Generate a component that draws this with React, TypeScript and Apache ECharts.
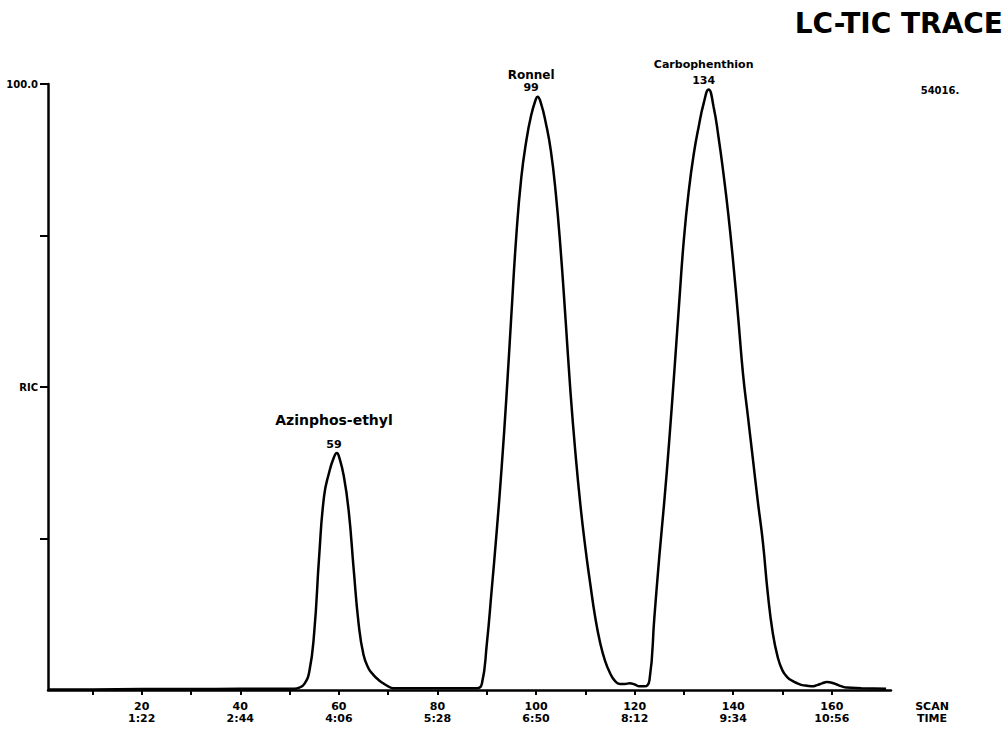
import React, { useEffect, useRef } from "react";
import * as echarts from "echarts";

// ---- axis ticks / labels ----
const xTickScans = [20, 40, 60, 80, 100, 120, 140, 160];
const xTickTimes = ["1:22", "2:44", "4:06", "5:28", "6:50", "8:12", "9:34", "10:56"];
const xMinorTicks = [10, 20, 30, 40, 50, 60, 70, 80, 90, 100, 110, 120, 130, 140, 150, 160];
const yTickValues = [25, 50, 75, 100];
const yLabelValues = [50, 100];
const yLabelTexts = ["RIC", "100.0"];

// ---- peaks ----
const peakNames = ["Azinphos-ethyl", "Ronnel", "Carbophenthion"];
const peakScans = [59, 99, 134];
const peakHeights = [39.1, 97.9, 99.1];
const fullScale = "54016.";

// ---- trace (scan number, % of full scale) ----
const baselineStart: [number, number][] = [
  [1, 0.1], [10, 0.1], [20, 0.15], [30, 0.15], [40, 0.2], [50, 0.2],
];
const azinphosTrace: [number, number][] = [
  [51, 0.2], [52, 0.4], [53, 1.0], [54, 3.0], [55, 9.5], [56, 22], [57, 32], [58, 35.8],
  [59, 38.4], [59.6, 39.1], [60, 38.6], [61, 35.3], [62, 29.5], [63, 20], [64, 11], [65, 5.8],
  [66, 3.6], [67, 2.5], [68, 1.7], [69, 1.1], [70, 0.6], [71, 0.3],
];
const baselineMid: [number, number][] = [[75, 0.3], [80, 0.3], [87, 0.3]];
const ronnelTrace: [number, number][] = [
  [88, 0.3], [89, 1.0], [90, 7.5], [91, 16.5], [92, 26], [93, 36.5], [94, 48.5], [95, 62],
  [96, 75], [97, 84.5], [98, 90.5], [99, 94.8], [100, 97.6], [100.3, 97.9], [101, 96.8], [102, 93.5],
  [103, 89], [104, 82], [105, 72.5], [106, 61], [107, 49], [108, 39], [109, 30.5],
  [110, 23.5], [111, 17.5], [112, 12], [113, 7.8], [114, 4.8], [115, 2.8], [116, 1.5],
  [117, 1.0], [118, 1.0], [119, 1.1], [120, 0.9], [121, 0.6], [122, 0.6],
];
const carboTrace: [number, number][] = [
  [123, 1.6], [124, 12], [125, 22], [126, 31], [127, 41], [128, 52], [129, 63.5],
  [130, 74.5], [131, 82.5], [132, 88.5], [133, 93], [134, 96.8], [135, 99.1], [136, 96.3],
  [137, 91.3], [138, 85.3], [139, 78.5], [140, 70.5], [141, 61.5], [142, 52], [143, 45],
  [144, 38], [145, 31], [146, 24.5], [147, 16], [148, 9.5], [149, 5.5], [150, 3.2],
  [151, 2.1], [152, 1.5], [153, 1.1], [154, 0.8], [155, 0.7], [156, 0.6], [157, 0.8],
  [158, 1.1], [159, 1.3], [160, 1.2], [161, 0.9], [162, 0.6], [163, 0.4], [166, 0.3], [171, 0.2],
];

// label styling (not data)
const peakLabelStyle = [
  { nameSize: 14, nameLH: 36 },
  { nameSize: 12, nameLH: 14 },
  { nameSize: 11, nameLH: 20 },
];

const FONT = '"DejaVu Sans", "Liberation Sans", sans-serif';

export default function App() {
  const ref = useRef<HTMLDivElement>(null);

  useEffect(() => {
    if (!ref.current) return;
    const chart = echarts.init(ref.current, null, { renderer: "svg" });
    const trace = [...baselineStart, ...azinphosTrace, ...baselineMid, ...ronnelTrace, ...carboTrace];

    chart.setOption({
      animation: false,
      backgroundColor: "#ffffff",
      grid: { left: 48, right: 115, top: 84, bottom: 39, containLabel: false, outerBoundsMode: "none" },
      xAxis: {
        type: "value",
        min: 1,
        max: 172,
        splitLine: { show: false },
        axisLine: { show: true, onZero: false, lineStyle: { color: "#000", width: 2.5 } },
        axisTick: { show: true, customValues: xMinorTicks, length: 5, lineStyle: { color: "#000", width: 2 } },
        axisLabel: {
          customValues: xTickScans,
          formatter: (v: number) => {
            const i = xTickScans.indexOf(Math.round(v));
            return i >= 0 ? `${xTickScans[i]}\n${xTickTimes[i]}` : "";
          },
          color: "#000",
          fontFamily: FONT,
          fontWeight: "bold",
          fontSize: 11,
          lineHeight: 12,
          margin: 10,
        },
      },
      yAxis: {
        type: "value",
        min: 0,
        max: 100,
        splitLine: { show: false },
        axisLine: { show: true, lineStyle: { color: "#000", width: 2.5 } },
        axisTick: { show: true, customValues: yTickValues, length: 8, lineStyle: { color: "#000", width: 2 } },
        axisLabel: {
          customValues: yLabelValues,
          formatter: (v: number) => {
            const i = yLabelValues.indexOf(Math.round(v));
            return i >= 0 ? yLabelTexts[i] : "";
          },
          color: "#000",
          fontFamily: FONT,
          fontWeight: "bold",
          fontSize: 10,
          margin: 10,
        },
      },
      series: [
        {
          type: "line",
          data: trace,
          showSymbol: false,
          smooth: 0.5,
          lineStyle: { color: "#000", width: 2.5 },
          markPoint: {
            symbol: "circle",
            symbolSize: 0,
            data: peakNames.map((n, i) => ({
              coord: [peakScans[i], peakHeights[i]],
              label: {
                show: true,
                position: "top",
                distance: 3,
                color: "#000",
                align: "center",
                formatter: `{n|${n}}\n{s|${peakScans[i]}}`,
                rich: {
                  n: {
                    fontFamily: FONT,
                    fontWeight: "bold",
                    fontSize: peakLabelStyle[i].nameSize,
                    lineHeight: peakLabelStyle[i].nameLH,
                    color: "#000",
                    align: "center",
                  },
                  s: {
                    fontFamily: FONT,
                    fontWeight: "bold",
                    fontSize: 11,
                    lineHeight: 12,
                    color: "#000",
                    align: "center",
                  },
                },
              },
            })),
          },
        },
      ],
      graphic: [
        {
          type: "text",
          x: 1003,
          y: 23,
          style: {
            text: "LC-TIC TRACE",
            font: `bold 28px ${FONT}`,
            fill: "#000",
            align: "right",
            textAlign: "right",
            verticalAlign: "middle",
            textVerticalAlign: "middle",
          },
        },
        {
          type: "text",
          x: 940,
          y: 90,
          style: {
            text: fullScale,
            font: `bold 10px ${FONT}`,
            fill: "#000",
            align: "center",
            textAlign: "center",
            verticalAlign: "middle",
            textVerticalAlign: "middle",
          },
        },
        {
          type: "text",
          x: 932,
          y: 700,
          style: {
            text: "SCAN\nTIME",
            font: `bold 11px ${FONT}`,
            lineHeight: 12,
            fill: "#000",
            align: "center",
            textAlign: "center",
            verticalAlign: "top",
            textVerticalAlign: "top",
          },
        },
      ],
    });

    return () => chart.dispose();
  }, []);

  return (
    <div
      ref={ref}
      style={{ position: "fixed", left: 0, top: 0, width: 1006, height: 729, background: "#fff" }}
    />
  );
}
